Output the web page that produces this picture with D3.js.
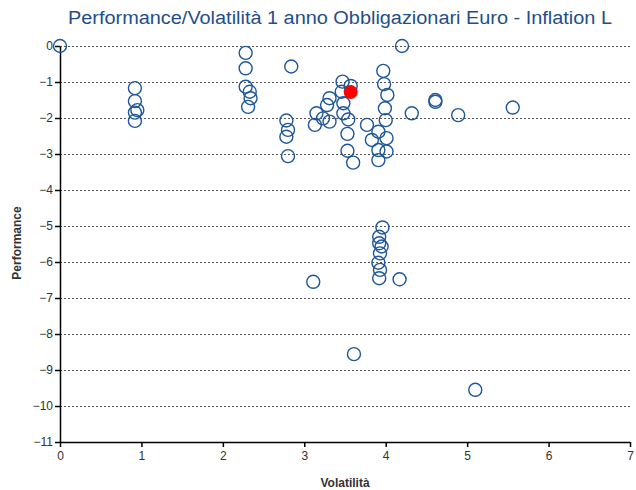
<!DOCTYPE html>
<html>
<head>
<meta charset="utf-8">
<script src="https://cdn.jsdelivr.net/npm/d3@7"></script>
<style>
  body { margin: 0; background: #fff; }
  svg text { font-family: "Liberation Sans", Arial, sans-serif; }
</style>
</head>
<body>
<div id="chart"></div>
<script>
// fund volatility (x) and 1y performance (y)
var volatility = [0.00, 0.92, 0.92, 0.95, 0.92, 0.92,
    2.28, 2.28, 2.28, 2.33, 2.34, 2.31, 2.84,
    2.78, 2.80, 2.78, 2.80,
    3.47, 3.57, 3.46, 3.31, 3.28, 3.15, 3.13, 3.23, 3.31, 3.48, 3.48, 3.54, 3.53, 3.53, 3.60,
    3.77, 3.83, 3.91, 4.01, 3.91, 4.01, 3.91,
    3.97, 3.98, 4.02, 3.99, 4.00, 4.20, 4.32, 4.61, 4.61, 4.89, 5.56,
    3.96, 3.92, 3.95, 3.92, 3.93, 3.91, 3.93, 3.92, 3.11, 4.17, 3.61, 5.10];
var performance = [0.00, -1.17, -1.53, -1.78, -1.85, -2.08,
    -0.19, -0.62, -1.13, -1.27, -1.45, -1.69, -0.57,
    -2.07, -2.33, -2.52, -3.06,
    -0.99, -1.11, -1.27, -1.45, -1.64, -1.87, -2.19, -2.01, -2.10, -1.59, -1.87, -2.04, -2.44, -2.91, -3.24,
    -2.19, -2.61, -2.38, -2.56, -2.89, -2.93, -3.17,
    -0.69, -1.06, -1.36, -1.73, -2.06, 0.00, -1.87, -1.50, -1.55, -1.92, -1.71,
    -5.04, -5.30, -5.57, -5.48, -5.76, -6.02, -6.22, -6.45, -6.55, -6.48, -8.56, -9.55];
// the highlighted fund
var selVol = [3.57];
var selPerf = [-1.28];

var xTicks = [0, 1, 2, 3, 4, 5, 6, 7];
var yTicks = [0, -1, -2, -3, -4, -5, -6, -7, -8, -9, -10, -11];

var W = 636, H = 490;
var margin = {top: 46, right: 6, bottom: 48, left: 60};
var width = W - margin.left - margin.right,
    height = H - margin.top - margin.bottom;

var svg = d3.select('#chart').append('svg')
    .attr('width', W)
    .attr('height', H);

var x = d3.scaleLinear().domain([0, 7]).range([0, width]);
var y = d3.scaleLinear().domain([-11, 0]).range([height, 0]);

var g = svg.append('g')
    .attr('transform', 'translate(' + margin.left + ',' + margin.top + ')');

// dotted gridlines
g.selectAll('.grid')
    .data(yTicks.filter(function(d){ return d > -11; }))
    .enter().append('line')
    .attr('class', 'grid')
    .attr('x1', 0).attr('x2', width)
    .attr('y1', function(d){ return y(d) + 0.5; })
    .attr('y2', function(d){ return y(d) + 0.5; })
    .attr('stroke', '#555')
    .attr('stroke-width', 1)
    .attr('stroke-dasharray', '2,2');

var xAxis = d3.axisBottom(x).tickValues(xTicks).tickFormat(d3.format('d'))
        .tickSize(5).tickSizeOuter(0).tickPadding(4),
    yAxis = d3.axisLeft(y).tickValues(yTicks).tickFormat(d3.format('d'))
        .tickSize(5).tickSizeOuter(0).tickPadding(2);

var gx = g.append('g')
    .attr('transform', 'translate(0,' + height + ')')
    .call(xAxis);
var gy = g.append('g').call(yAxis);

[gx, gy].forEach(function(a){
    a.selectAll('path, line').attr('stroke', '#000').attr('stroke-width', 1.5);
    a.selectAll('text').attr('fill', '#333').style('font-size', '12px')
        .style('font-family', '"Liberation Sans", Arial, sans-serif');
});

// points
g.selectAll('.pt')
    .data(d3.range(volatility.length))
    .enter().append('circle')
    .attr('class', 'pt')
    .attr('cx', function(i){ return x(volatility[i]); })
    .attr('cy', function(i){ return y(performance[i]); })
    .attr('r', 6.5)
    .attr('fill', '#fff')
    .attr('fill-opacity', 0)
    .attr('stroke', '#1f5799')
    .attr('stroke-width', 1.4);

g.selectAll('.sel')
    .data(d3.range(selVol.length))
    .enter().append('circle')
    .attr('class', 'sel')
    .attr('cx', function(i){ return x(selVol[i]); })
    .attr('cy', function(i){ return y(selPerf[i]); })
    .attr('r', 7)
    .attr('fill', '#ff0000');

// titles
svg.append('text')
    .attr('x', 340).attr('y', 24)
    .attr('text-anchor', 'middle')
    .attr('fill', '#1f4e8c')
    .attr('textLength', 544)
    .attr('lengthAdjust', 'spacingAndGlyphs')
    .style('font-size', '18px')
    .text('Performance/Volatilità 1 anno Obbligazionari Euro - Inflation L');

svg.append('text')
    .attr('x', 345).attr('y', 487)
    .attr('text-anchor', 'middle')
    .attr('fill', '#333')
    .style('font-size', '12px')
    .style('font-weight', 'bold')
    .text('Volatilità');

svg.append('text')
    .attr('transform', 'translate(21,243) rotate(-90)')
    .attr('text-anchor', 'middle')
    .attr('fill', '#333')
    .style('font-size', '12px')
    .style('font-weight', 'bold')
    .text('Performance');
</script>
</body>
</html>
